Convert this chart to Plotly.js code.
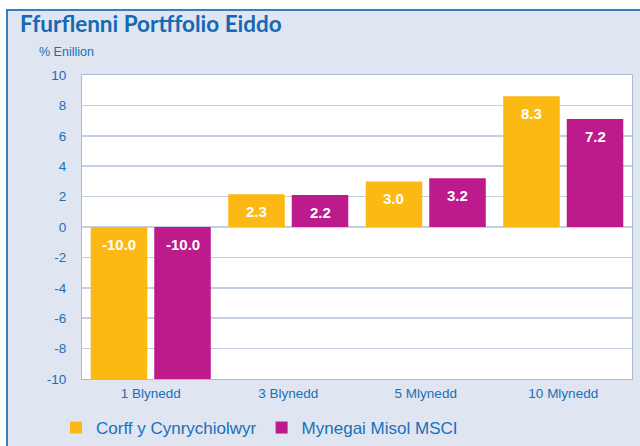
<!DOCTYPE html>
<html><head><meta charset="utf-8">
<script src="https://cdn.plot.ly/plotly-3.0.1.min.js"></script>
<style>
html,body{margin:0;padding:0;background:#ffffff;overflow:hidden;}
#frame{position:absolute;left:6px;top:9px;width:634px;height:437px;border-left:2px solid #3a7cc0;border-top:2px solid #3a7cc0;background:#dfe5f1;}
#chart{width:632px;height:435px;}
</style></head><body>
<div id="frame"><div id="chart"></div></div>
<script>
const categories = ['1 Blynedd', '3 Blynedd', '5 Mlynedd', '10 Mlynedd'];
const seriesNames = ['Corff y Cynrychiolwyr', 'Mynegai Misol MSCI'];
const corffValues = [-10.0, 2.15, 3.0, 8.6];
const msciValues = [-10.0, 2.1, 3.2, 7.1];
const corffLabels = ['-10.0', '2.3', '3.0', '8.3'];
const msciLabels = ['-10.0', '2.2', '3.2', '7.2'];
const yTickVals = [-10, -8, -6, -4, -2, 0, 2, 4, 6, 8, 10];
const yTickText = ['-10', '-8', '-6', '-4', '-2', '0', '2', '4', '6', '8', '10'];

const FONT = 'Liberation Sans, Arial, sans-serif';
const BLUE = '#1a70b8';
const colors = ['#fdb913', '#bd1a8c'];

const W = 632, H = 435;
const M = {l: 74, r: 8, t: 64, b: 67};
const BARGAP = 0.076, BARGROUPGAP = 0.11;
const plotW = W - M.l - M.r;
const slot = (1 - BARGAP) * (plotW / categories.length) / 2;

const series = [
  {name: seriesNames[0], values: corffValues, labels: corffLabels, color: colors[0]},
  {name: seriesNames[1], values: msciValues, labels: msciLabels, color: colors[1]}
];

const data = series.map(s => ({
  type: 'bar', x: categories, y: s.values, name: s.name,
  marker: {color: s.color}, hoverinfo: 'skip'
}));

const annotations = [];
series.forEach((s, si) => {
  const shift = (si === 0 ? -1 : 1) * slot / 2;
  s.values.forEach((v, i) => {
    annotations.push({
      x: categories[i], y: v >= 0 ? v : 0, xref: 'x', yref: 'y',
      text: '<b>' + s.labels[i] + '</b>', showarrow: false,
      xanchor: 'center', yanchor: 'top', xshift: shift, yshift: -7,
      font: {family: FONT, size: 15, color: '#ffffff'}
    });
  });
});
annotations.push({
  text: '% Enillion', xref: 'paper', yref: 'paper',
  x: -45 / plotW, y: 1 + 23 / (H - M.t - M.b), xanchor: 'left', yanchor: 'middle',
  showarrow: false, font: {family: FONT, size: 12.5, color: BLUE}
});

const layout = {
  width: W, height: H, margin: M,
  paper_bgcolor: '#dfe5f1', plot_bgcolor: '#ffffff',
  barmode: 'group', bargap: BARGAP, bargroupgap: BARGROUPGAP,
  title: {
    text: '<b>Ffurflenni Portffolio Eiddo</b>',
    font: {family: 'Lato, sans-serif', size: 22.5, color: '#1569b2'},
    xref: 'container', yref: 'container', x: 12 / W, xanchor: 'left',
    y: 1 - 13 / H, yanchor: 'middle'
  },
  xaxis: {
    type: 'category', showgrid: false, zeroline: false,
    showline: true, linecolor: '#a9bbd6', linewidth: 1, mirror: true,
    tickfont: {family: FONT, size: 13.5, color: BLUE}, ticks: '',
    ticklabelstandoff: 2, fixedrange: true
  },
  yaxis: {
    range: [-10, 10], tickvals: yTickVals, ticktext: yTickText,
    showgrid: true, gridcolor: '#c3cfe2', gridwidth: 1.5,
    zeroline: false, showline: true, linecolor: '#a9bbd6', linewidth: 1, mirror: true,
    tickfont: {family: FONT, size: 13.5, color: BLUE}, ticks: '',
    ticklabelstandoff: 12, fixedrange: true
  },
  legend: {
    orientation: 'h', xref: 'container', yref: 'container',
    x: 48 / W, y: 1 - 417 / H, xanchor: 'left', yanchor: 'middle',
    font: {family: FONT, size: 17, color: BLUE}, bgcolor: 'rgba(0,0,0,0)',
    itemclick: false, itemdoubleclick: false
  },
  annotations: annotations,
  showlegend: true
};

Plotly.newPlot('chart', data, layout, {displayModeBar: false, staticPlot: true});
</script>
</body></html>
